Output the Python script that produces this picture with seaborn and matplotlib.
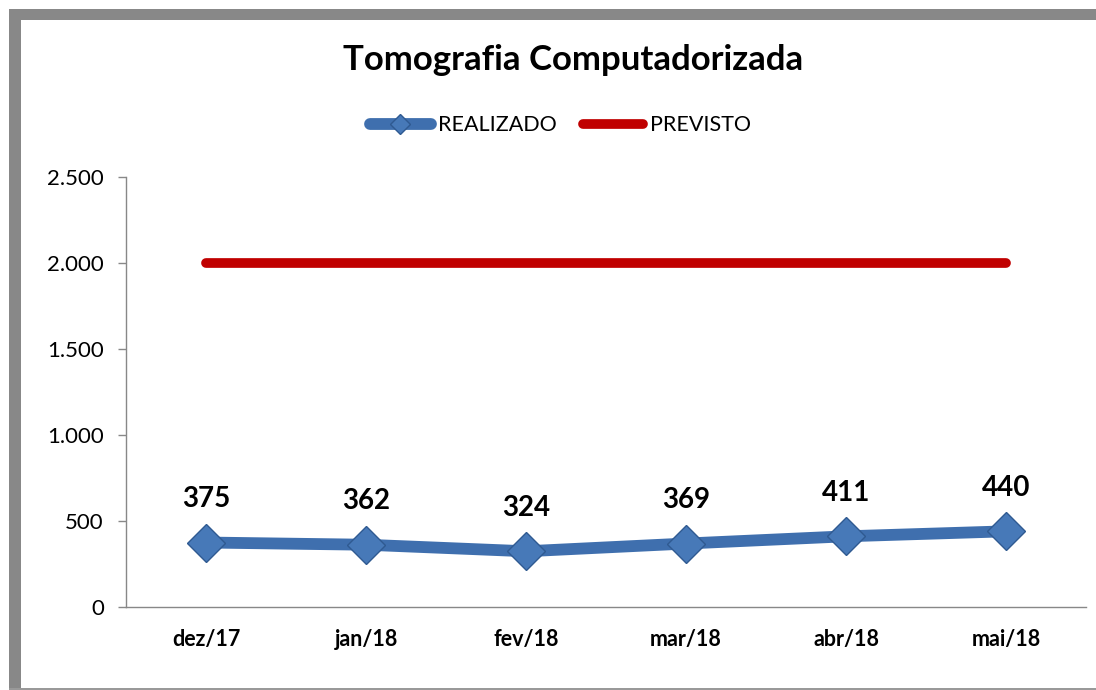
import matplotlib
matplotlib.use("Agg")
import matplotlib.pyplot as plt
from matplotlib.patches import Rectangle
from matplotlib.ticker import FuncFormatter
import seaborn as sns
import pandas as pd

# dados do grafico
meses = ["dez/17", "jan/18", "fev/18", "mar/18", "abr/18", "mai/18"]
realizado = [375, 362, 324, 369, 411, 440]
previsto = [2000, 2000, 2000, 2000, 2000, 2000]
yticks = [0, 500, 1000, 1500, 2000, 2500]

sns.set_theme(style="white")
plt.rcParams['font.family'] = ['Lato', 'DejaVu Sans']
plt.rcParams['text.color'] = 'black'
plt.rcParams['xtick.color'] = 'black'
plt.rcParams['ytick.color'] = 'black'

df = pd.DataFrame({"mes": meses, "REALIZADO": realizado, "PREVISTO": previsto})

fig = plt.figure(figsize=(10.96, 6.90), dpi=100)
ax = fig.add_axes([126 / 1096, 1 - 607 / 690, 960 / 1096, 430 / 690])

blue = "#3F6FAE"
red = "#C00000"

sns.lineplot(data=df, x="mes", y="REALIZADO", ax=ax, color=blue, linewidth=8.5,
             marker="D", markersize=19, markerfacecolor="#4779B8",
             markeredgecolor="#2F5A91", markeredgewidth=1.0, label="REALIZADO",
             zorder=3)
sns.lineplot(data=df, x="mes", y="PREVISTO", ax=ax, color=red, linewidth=7,
             solid_capstyle="round", label="PREVISTO", zorder=2)

# rotulos dos valores
for i, v in enumerate(realizado):
    ax.annotate(f"{v}", (i, v), xytext=(0, 22), textcoords="offset points",
                ha="center", va="bottom", fontsize=20, fontweight="bold",
                color="black")

ax.set_xlim(-0.5, len(meses) - 0.5)
ax.set_ylim(0, 2500)
ax.set_yticks(yticks)
ax.yaxis.set_major_formatter(FuncFormatter(lambda v, p: f"{int(v):,}".replace(",", ".")))
ax.set_xlabel("")
ax.set_ylabel("")

for s in ["top", "right"]:
    ax.spines[s].set_visible(False)
for s in ["left", "bottom"]:
    ax.spines[s].set_color("#888888")
    ax.spines[s].set_linewidth(1.0)

ax.tick_params(axis="y", which="both", left=True, length=6, width=1,
               color="#888888", labelsize=16, pad=10)
ax.tick_params(axis="x", length=0, labelsize=15.5, pad=16)
for lbl in ax.get_xticklabels():
    lbl.set_fontweight("bold")

leg = ax.legend(loc="center", bbox_to_anchor=(0.453, 1.12), ncol=2, frameon=False,
                fontsize=15.5, handlelength=2.8, handletextpad=0.35, columnspacing=1.2,
                borderaxespad=0)
leg.legend_handles[0].set_markersize(10)

fig.text(573 / 1096, 1 - 60 / 690, "Tomografia Computadorizada", ha="center",
         va="center", fontsize=25, fontweight="bold")

# moldura cinza
gray = "#888888"
fig.add_artist(Rectangle((9 / 1096, 1 - 20 / 690), 1087 / 1096, 11 / 690,
                         transform=fig.transFigure, color=gray, lw=0))
fig.add_artist(Rectangle((9 / 1096, 0), 12 / 1096, 1 - 9 / 690,
                         transform=fig.transFigure, color=gray, lw=0))
fig.add_artist(Rectangle((9 / 1096, 0), 1087 / 1096, 2 / 690,
                         transform=fig.transFigure, color="#999999", lw=0))

fig.savefig("out.png", dpi=100)
